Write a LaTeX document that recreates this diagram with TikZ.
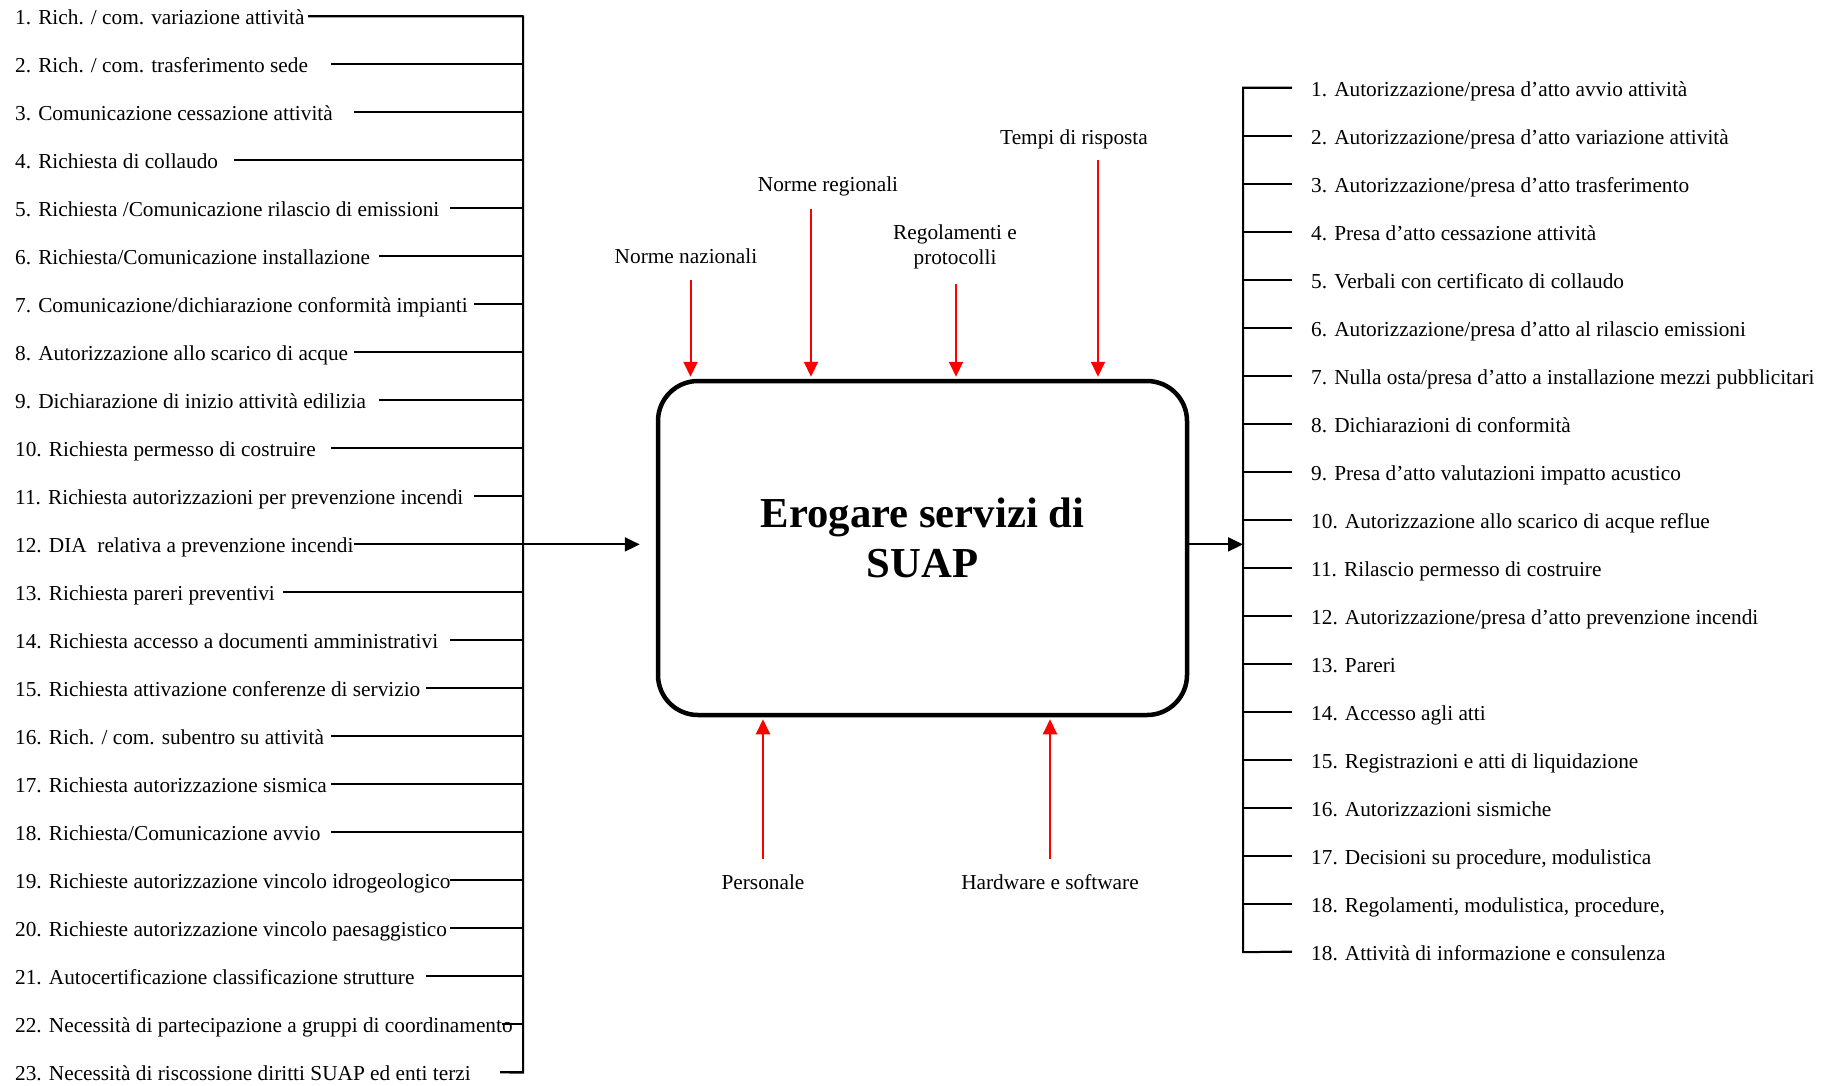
\documentclass[tikz,border=0pt]{standalone}
\usepackage{fontspec}
\setmainfont{Liberation Serif}
\usetikzlibrary{arrows.meta}
\begin{document}
\begin{tikzpicture}[x=1pt,y=-1pt,
  item/.style={anchor=base west, inner sep=0pt, font=\fontsize{21.3}{24.5}\selectfont},
  lbl/.style={inner sep=0pt, align=center, font=\fontsize{21.3}{24.5}\selectfont},
  wire/.style={line width=2pt, black},
  ctrl/.style={line width=2pt, red, -{Triangle[length=15pt,width=14pt]}, shorten >=2pt},
  flow/.style={line width=2pt, black, -{Triangle[length=15pt,width=14pt]}},
  proc/.style={draw, line width=4.5pt, rounded corners=40pt, minimum width=529pt, minimum height=334pt, inner sep=0pt}]

\useasboundingbox (0,0) rectangle (1832,1085);

% central activity
\node[proc] (box) at (922.5,548) {};
\node[inner sep=0pt, align=center, font=\bfseries\fontsize{42.7}{50}\selectfont] (title) at (922.5,538) {Erogare servizi di\\SUAP};

% input bus
\coordinate (busT) at (523,16.4);
\coordinate (busB) at (523,1072.6);

\foreach \i/\sx/\t in {
  1/308/{1. Rich. / com. variazione attività},
  2/331/{2. Rich. / com. trasferimento sede},
  3/354/{3. Comunicazione cessazione attività},
  4/234/{4. Richiesta di collaudo},
  5/450/{5. Richiesta /Comunicazione rilascio di emissioni},
  6/379/{6. Richiesta/Comunicazione installazione},
  7/474/{7. Comunicazione/dichiarazione conformità impianti},
  8/354/{8. Autorizzazione allo scarico di acque},
  9/379/{9. Dichiarazione di inizio attività edilizia},
  10/331/{10. Richiesta permesso di costruire},
  11/474/{11. Richiesta autorizzazioni per prevenzione incendi},
  12/354/{12. DIA\ \ relativa a prevenzione incendi},
  13/283/{13. Richiesta pareri preventivi},
  14/450/{14. Richiesta accesso a documenti amministrativi},
  15/426/{15. Richiesta attivazione conferenze di servizio},
  16/331/{16. Rich. / com. subentro su attività},
  17/331/{17. Richiesta autorizzazione sismica},
  18/331/{18. Richiesta/Comunicazione avvio},
  19/450/{19. Richieste autorizzazione vincolo idrogeologico},
  20/450/{20. Richieste autorizzazione vincolo paesaggistico},
  21/426/{21. Autocertificazione classificazione strutture},
  22/502/{22. Necessità di partecipazione a gruppi di coordinamento},
  23/500/{23. Necessità di riscossione diritti SUAP ed enti terzi}} {
  \node[item] (L\i) at (15,{16.4+48*(\i-1)+8.3}) {\t};
  \coordinate (ls\i) at (\sx,{16.4+48*(\i-1)});
  \draw[wire] (ls\i) -- (ls\i -| busT);
}
\draw[wire] (ls1) -- (busT) -- (busB) -- (ls23);
\draw[flow, shorten >=16pt] (ls12) -- (ls12 -| box.west);

% output bus
\coordinate (rbusT) at (1243,87.6);
\coordinate (rbusB) at (1243,952.2);
\coordinate (rj) at (1243,544.4);

\foreach \i/\t in {
  1/{1. Autorizzazione/presa d’atto avvio attività},
  2/{2. Autorizzazione/presa d’atto variazione attività},
  3/{3. Autorizzazione/presa d’atto trasferimento},
  4/{4. Presa d’atto cessazione attività},
  5/{5. Verbali con certificato di collaudo},
  6/{6. Autorizzazione/presa d’atto al rilascio emissioni},
  7/{7. Nulla osta/presa d’atto a installazione mezzi pubblicitari},
  8/{8. Dichiarazioni di conformità},
  9/{9. Presa d’atto valutazioni impatto acustico},
  10/{10. Autorizzazione allo scarico di acque reflue},
  11/{11. Rilascio permesso di costruire},
  12/{12. Autorizzazione/presa d’atto prevenzione incendi},
  13/{13. Pareri},
  14/{14. Accesso agli atti},
  15/{15. Registrazioni e atti di liquidazione},
  16/{16. Autorizzazioni sismiche},
  17/{17. Decisioni su procedure, modulistica},
  18/{18. Regolamenti, modulistica, procedure,},
  19/{18. Attività di informazione e consulenza}} {
  \node[item] (R\i) at (1311,{87.6+48*(\i-1)+9.3}) {\t};
  \coordinate (rs\i) at (1292,{87.6+48*(\i-1)});
  \draw[wire] (rs\i -| rbusT) -- (rs\i);
}
\draw[wire] (rs1) -- (rbusT) -- (rbusB) -- (rs19);
\draw[flow] (box.east |- rj) -- (rj);

% controls
\node[lbl] (nn) at (686,256.5) {Norme nazionali};
\node[lbl] (nr) at (828,186.5) {Norme regionali};
\node[lbl] (rp) at (955,247) {Regolamenti e\\protocolli};
\node[lbl] (tr) at (1074,139) {Tempi di risposta};
\coordinate (cnn) at (690.5,280);
\coordinate (cnr) at (811,209);
\coordinate (crp) at (956,284);
\coordinate (ctr) at (1098,160);
\draw[ctrl] (cnn) -- (cnn |- box.north);
\draw[ctrl] (cnr) -- (cnr |- box.north);
\draw[ctrl] (crp) -- (crp |- box.north);
\draw[ctrl] (ctr) -- (ctr |- box.north);

% mechanisms
\node[lbl] (pe) at (763,882) {Personale};
\node[lbl] (hw) at (1050,882) {Hardware e software};
\coordinate (cpe) at (763,859);
\coordinate (chw) at (1050,859);
\draw[ctrl] (cpe) -- (cpe |- box.south);
\draw[ctrl] (chw) -- (chw |- box.south);
\end{tikzpicture}
\end{document}
